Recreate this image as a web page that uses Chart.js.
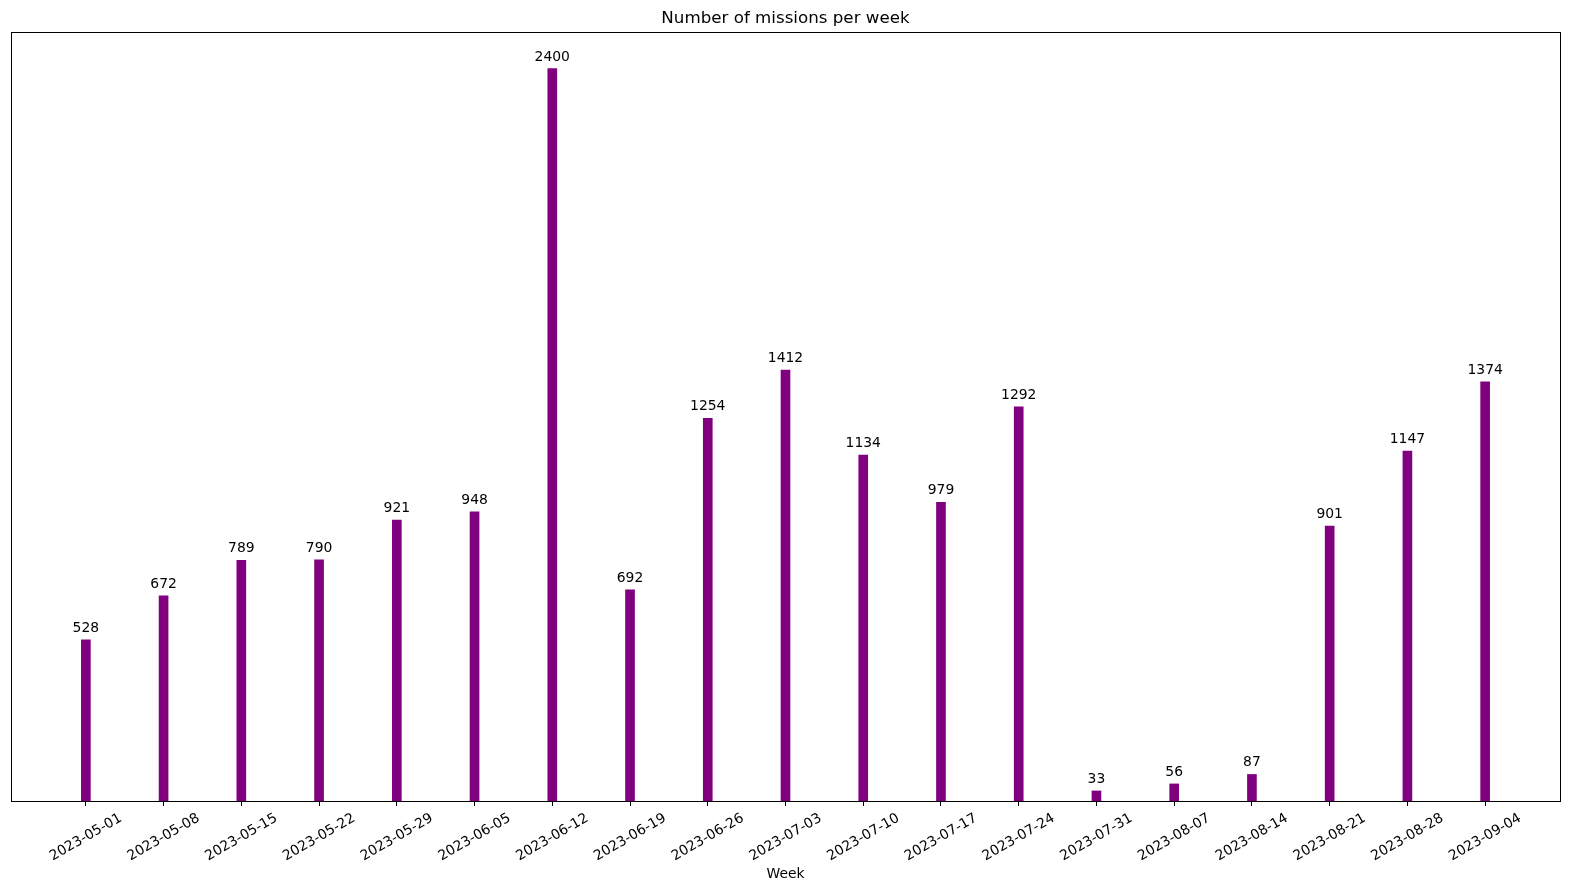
<!DOCTYPE html>
<html>
<head>
<meta charset="utf-8">
<script src="https://cdn.jsdelivr.net/npm/chart.js@4"></script>
<style>
  body { margin: 0; background: #fff; }
</style>
</head>
<body>
<canvas id="chart" width="1570" height="893"></canvas>
<script>
const weeks = ['2023-05-01', '2023-05-08', '2023-05-15', '2023-05-22', '2023-05-29', '2023-06-05',
    '2023-06-12', '2023-06-19', '2023-06-26', '2023-07-03', '2023-07-10', '2023-07-17',
    '2023-07-24', '2023-07-31', '2023-08-07', '2023-08-14', '2023-08-21', '2023-08-28', '2023-09-04'];
const missions = [528, 672, 789, 790, 921, 948, 2400, 692, 1254, 1412, 1134, 979, 1292, 33, 56, 87, 901, 1147, 1374];

const DAY = 86400000;
const dayOf = (w) => (Date.parse(w) - Date.parse(weeks[0])) / DAY;
const days = weeks.map(dayOf);

Chart.defaults.font.family = "'DejaVu Sans', sans-serif";
Chart.defaults.color = '#000';

// matplotlib-ish 5% margins
const span = days[days.length - 1] - days[0] + 0.8;
const xMin = days[0] - 0.4 - span * 0.05;
const xMax = days[days.length - 1] + 0.4 + span * 0.05;
const yMax = Math.max(...missions) * 1.05;

const frame = {
    id: 'frame',
    afterDraw(chart) {
        const { ctx, chartArea: a } = chart;
        ctx.save();
        ctx.strokeStyle = '#000';
        ctx.lineWidth = 1;
        ctx.strokeRect(Math.round(a.left) + 0.5, Math.round(a.top) + 0.5,
            Math.round(a.right - a.left), Math.round(a.bottom - a.top));
        ctx.restore();
    }
};

const valueLabels = {
    id: 'valueLabels',
    afterDatasetsDraw(chart) {
        const { ctx } = chart;
        const meta = chart.getDatasetMeta(0);
        ctx.save();
        ctx.font = "13.9px 'DejaVu Sans'";
        ctx.fillStyle = '#000';
        ctx.textAlign = 'center';
        ctx.textBaseline = 'alphabetic';
        meta.data.forEach((bar, i) => {
            ctx.fillText(String(missions[i]), bar.x, bar.y - 8);
        });
        ctx.restore();
    }
};

new Chart(document.getElementById('chart'), {
    type: 'bar',
    data: {
        datasets: [{
            data: days.map((d, i) => ({ x: d, y: missions[i] })),
            backgroundColor: '#800080',
            barThickness: 9,
        }]
    },
    options: {
        responsive: false,
        animation: false,
        layout: { padding: { left: 11, right: 10, top: 0, bottom: 0 } },
        plugins: {
            legend: { display: false },
            tooltip: { enabled: false },
            title: {
                display: true,
                text: 'Number of missions per week',
                font: { size: 16.7, weight: 'normal' },
                padding: { top: 9, bottom: 3 },
                color: '#000',
            },
        },
        scales: {
            x: {
                type: 'linear',
                min: xMin,
                max: xMax,
                offset: false,
                afterBuildTicks: (scale) => {
                    scale.ticks = days.map(d => ({ value: d }));
                },
                afterFit: (scale) => { scale.height = 92; },
                ticks: {
                    autoSkip: false,
                    minRotation: 30,
                    maxRotation: 30,
                    labelOffset: 35,
                    padding: 4,
                    font: { size: 13.9 },
                    color: '#000',
                    callback: (v, i) => weeks[i],
                },
                grid: {
                    offset: false,
                    drawOnChartArea: false,
                    drawTicks: true,
                    tickLength: 5,
                    color: '#000',
                },
                border: { display: true, color: '#000' },
                title: {
                    display: true,
                    text: 'Week',
                    font: { size: 13.9 },
                    color: '#000',
                    padding: { top: 0, bottom: 10 },
                },
            },
            y: {
                display: false,
                min: 0,
                max: yMax,
            }
        }
    },
    plugins: [frame, valueLabels]
});
</script>
</body>
</html>
